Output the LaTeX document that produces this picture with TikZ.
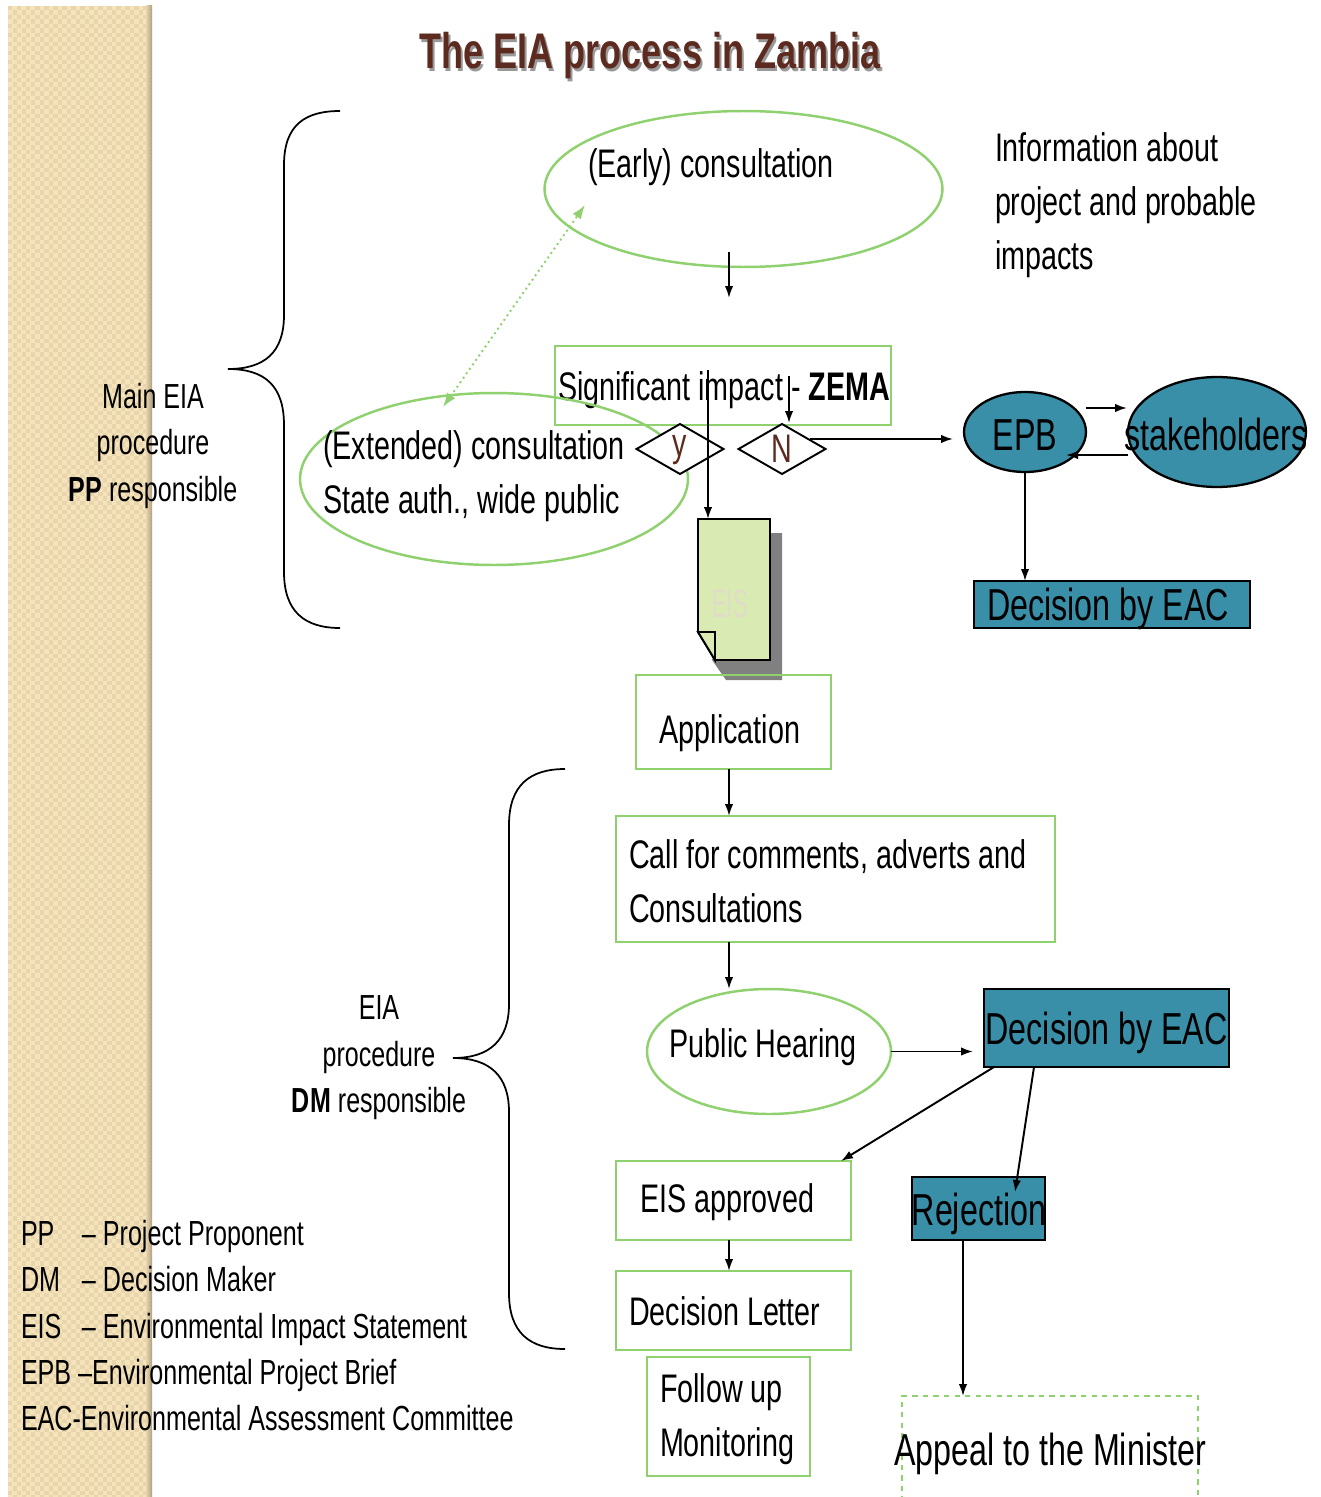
\documentclass[tikz,border=0pt]{standalone}
\usepackage{fontspec}
\setmainfont[FakeStretch=0.72]{Liberation Sans}
\usetikzlibrary{shapes.geometric,arrows.meta}
\definecolor{edgegreen}{HTML}{8FD06F}
\definecolor{tealfill}{HTML}{3A8FA8}
\definecolor{titlebrown}{HTML}{5C2A1E}
\definecolor{sandlight}{HTML}{F5E3B9}
\definecolor{sanddark}{HTML}{E9D5AD}
\definecolor{docgreen}{HTML}{D9EAB2}
\definecolor{paletext}{HTML}{E0DCC8}
\tikzset{
  every node/.style={inner sep=0pt,outer sep=0pt},
  txt/.style={font=\fontsize{22.7}{30.6}\selectfont,align=flush left},
  smalltxt/.style={font=\fontsize{19.8}{26.4}\selectfont,align=center},
  bigtxt/.style={font=\fontsize{25.5}{30}\selectfont},
  greenbox/.style={draw=edgegreen,line width=1.4pt,rectangle,txt},
  greenell/.style={draw=edgegreen,line width=1.4pt,ellipse},
  tealbox/.style={draw=black,fill=tealfill,line width=1.3pt,rectangle},
  tealell/.style={draw=black,fill=tealfill,line width=1.3pt,ellipse},
  decide/.style={draw=black,fill=white,line width=1.1pt,diamond,aspect=1.74,minimum width=1.74cm,minimum height=1cm,text=titlebrown,font=\fontsize{22.7}{26}\selectfont},
  flow/.style={-{Latex[length=0.24cm,width=0.17cm]},line width=1.1pt,black},
  brace/.style={line width=1pt,black}
}
\begin{document}
\begin{tikzpicture}[x=0.02cm,y=-0.02cm]
  \useasboundingbox (0,0) rectangle (1320,1497);
  \clip (0,0) rectangle (1320,1497);
  % side band
  \fill[sandlight] (8,6) rectangle (152,1497);
  \foreach \i in {0,...,31}{
    \pgfmathsetmacro{\xpos}{10.25+4.5*\i}
    \pgfmathsetmacro{\ystart}{6+4.5*mod(\i,2)}
    \draw[sanddark,line width=0.09cm,dash pattern=on 0.09cm off 0.09cm] (\xpos,\ystart) -- (\xpos,1497);
  }
  \shade[left color=sanddark,right color=black!25!sanddark] (146,6) rectangle (152,1497);

  \node[font=\fontsize{28.5}{32}\selectfont\bfseries,text=black!40] (titleshadow) at (652,59) {The EIA process in Zambia};
  \node[font=\fontsize{28.5}{32}\selectfont\bfseries,text=titlebrown] (title) at (650,56) {The EIA process in Zambia};

  % braces
  \draw[brace] (340,111) .. controls (305,111) and (284,125) .. (284,165) -- (284,315) .. controls (284,352) and (265,369) .. (228,369) .. controls (265,369) and (284,386) .. (284,425) -- (284,572) .. controls (284,612) and (305,628) .. (340,628);
  \draw[brace] (565,769) .. controls (530,769) and (509,785) .. (509,825) -- (509,1004) .. controls (509,1040) and (490,1058) .. (453,1058) .. controls (490,1058) and (509,1076) .. (509,1112) -- (509,1293) .. controls (509,1333) and (530,1349) .. (565,1349);

  \node[smalltxt] (mainlabel) at (153,446) {Main EIA\\procedure\\\textbf{PP} responsible};
  \node[smalltxt] (eialabel) at (379,1058) {EIA\\procedure\\\textbf{DM} responsible};

  % upper part
  \node[greenell,minimum width=7.96cm,minimum height=3.12cm] (early) at (743.5,189) {};
  \node[txt,anchor=west] (earlytext) at (588,167) {(Early) consultation};
  \node[txt,anchor=north west] (info) at (995,133) {Information about\\project and probable\\impacts};
  \node[greenbox,minimum width=6.72cm,minimum height=1.58cm] (sig) at (723,385.5) {};
  \node[txt] (sigtext) at (724,390) {Significant impact - \textbf{ZEMA}};
  \node[greenell,minimum width=7.76cm,minimum height=3.44cm] (extended) at (494,479) {};
  \node[txt,anchor=north west] (extendedtext) at (323,431) {(Extended) consultation\\State auth., wide public};
  \node[decide] (yes) at (680,449) {\raisebox{-0.15cm}[0pt][0pt]{y}};
  \node[decide] (no) at (782,449) {N};

  % document
  \fill[black!50] (770,533) -- (782,533) -- (782,680) -- (726,680) -- (712,660) -- cycle;
  \draw[fill=docgreen,line width=1.1pt] (698,519) -- (770,519) -- (770,660) -- (715,660) -- (698,632) -- cycle;
  \draw[fill=docgreen,line width=1.1pt] (698,632) -- (715,632) -- (715,660) -- cycle;
  \node[txt,text=paletext] (eis) at (730,604) {\scalebox{0.76}[1]{EIS}};
  \coordinate (eistop) at (708,519);

  % EPB side
  \node[tealell,minimum width=2.44cm,minimum height=1.6cm] (epb) at (1025,432) {};
  \node[bigtxt] (epbtext) at (1025,435) {EPB};
  \node[tealell,minimum width=3.56cm,minimum height=2.2cm] (stake) at (1217,432) {};
  \node[bigtxt] (staketext) at (1216,434) {stakeholders};
  \node[tealbox,minimum width=5.52cm,minimum height=0.94cm] (decone) at (1112,604.5) {};
  \node[bigtxt,anchor=west] (deconetext) at (987,609) {Decision by EAC};

  % lower part
  \node[greenbox,minimum width=3.9cm,minimum height=1.88cm] (app) at (733.5,722) {};
  \node[txt] (apptext) at (730,733) {Application};
  \node[greenbox,minimum width=8.78cm,minimum height=2.52cm] (call) at (835.5,879) {};
  \node[txt,anchor=north west] (calltext) at (629,840) {Call for comments, adverts and\\Consultations};
  \node[greenell,minimum width=4.88cm,minimum height=2.5cm] (hearing) at (769,1051.5) {};
  \node[txt] (hearingtext) at (763,1047) {Public Hearing};
  \node[tealbox,minimum width=4.9cm,minimum height=1.56cm] (dectwo) at (1106.5,1028) {};
  \node[bigtxt] (dectwotext) at (1106.5,1033) {Decision by EAC};
  \node[greenbox,minimum width=4.7cm,minimum height=1.58cm] (approved) at (733.5,1200.5) {};
  \node[txt,anchor=west] (approvedtext) at (640,1202) {EIS approved};
  \node[greenbox,minimum width=4.7cm,minimum height=1.58cm] (letter) at (733.5,1310.5) {};
  \node[txt,anchor=west] (lettertext) at (629,1311) {Decision Letter};
  \node[greenbox,minimum width=3.26cm,minimum height=2.38cm] (follow) at (728.5,1416.5) {};
  \node[txt,anchor=north west] (followtext) at (660,1374) {Follow up\\Monitoring};
  \node[tealbox,minimum width=2.66cm,minimum height=1.26cm] (rej) at (978.5,1208.5) {};
  \node[bigtxt] (rejtext) at (979,1214) {Rejection};
  \node[draw=edgegreen,dashed,line width=1pt,minimum width=5.92cm,minimum height=2.6cm] (appeal) at (1050,1461) {};
  \node[bigtxt] (appealtext) at (1050,1454) {Appeal to the Minister};

  % legend
  \node[anchor=north west,font=\fontsize{19.85}{26.4}\selectfont,align=flush left] (legend) at (21,1220) {\makebox[1.22cm][l]{PP}-- Project Proponent\\\makebox[1.22cm][l]{DM}-- Decision Maker\\\makebox[1.22cm][l]{EIS}-- Environmental Impact Statement\\EPB --Environmental Project Brief\\EAC-Environmental Assessment Committee};

  % connectors
  \coordinate (col) at (729,0);
  \coordinate (earlyin) at (729,252);
  \coordinate (earlyout) at (729,298);
  \coordinate (dotone) at (443,407);
  \coordinate (dottwo) at (585,205);
  \coordinate (signo) at (789,376);
  \coordinate (noend) at (789,423);
  \coordinate (sigyes) at (708,370);
  \coordinate (noout) at (810,439);
  \coordinate (epbin) at (953,439);
  \coordinate (epbright) at (1086,408);
  \coordinate (stakeleft) at (1127,408);
  \coordinate (stakeback) at (1128,455);
  \coordinate (epbback) at (1066,455);
  \coordinate (hearingend) at (973,1051.5);
  \coordinate (dectwoa) at (994,1067);
  \coordinate (approvedtop) at (841,1161);
  \coordinate (dectwob) at (1034,1067);
  \coordinate (rejtop) at (1015,1192);
  \coordinate (rejout) at (963,1240);

  \draw[flow] (earlyin) -- (earlyout);
  \draw[{Latex[length=0.28cm,width=0.2cm]}-{Latex[length=0.28cm,width=0.2cm]},edgegreen,line width=1.1pt,dotted] (dotone) -- (dottwo);
  \draw[flow] (signo) -- (noend);
  \draw[flow] (sigyes) -- (eistop);
  \draw[flow] (noout) -- (epbin);
  \draw[flow] (epbright) -- (stakeleft);
  \draw[flow] (stakeback) -- (epbback);
  \draw[flow] (epb.south) -- (decone.north -| epb.south);
  \draw[flow] (app.south -| col) -- (call.north -| col);
  \draw[flow] (call.south -| col) -- (hearing.north -| col);
  \draw[flow] (hearing.east) -- (hearingend);
  \draw[flow] (dectwoa) -- (approvedtop);
  \draw[flow] (dectwob) -- (rejtop);
  \draw[flow] (approved.south -| col) -- (letter.north -| col);
  \draw[flow] (rejout) -- (appeal.north -| rejout);
\end{tikzpicture}
\end{document}
